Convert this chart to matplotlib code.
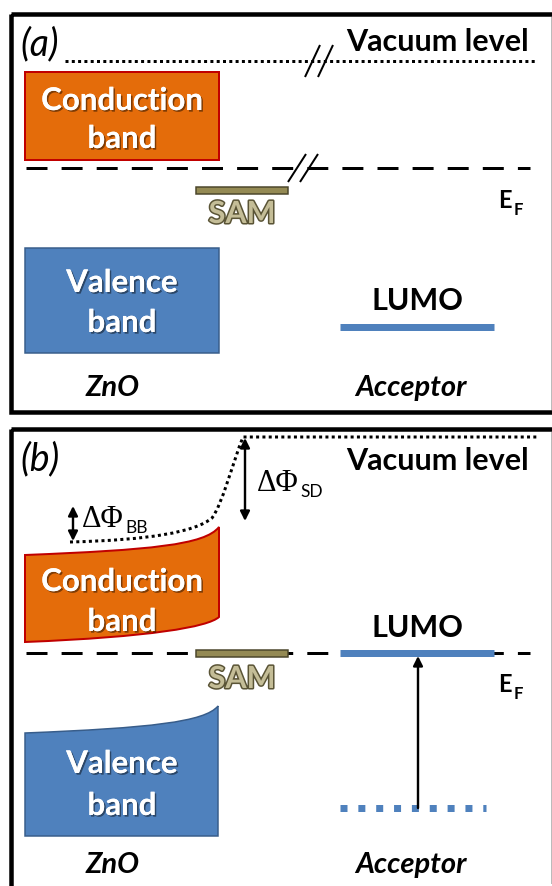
import matplotlib
matplotlib.use('Agg')
import matplotlib.pyplot as plt
from matplotlib.patches import Rectangle, PathPatch
from matplotlib.path import Path
import matplotlib.patheffects as pe

W, H, DPI = 552, 886, 100
PX = 72.0 / DPI  # points per pixel

# ---------------- diagram data (pixel-space energy levels) ----------------
panel_labels = ['(a)', '(b)']
panel_top = [14, 429]
panel_bottom = [412, 905]
zno_x = [25, 219]
acceptor_x = [340, 494]
sam_x = [196, 288]
fermi_y = [168, 653]
vacuum_a_y = 61
vacuum_b_y = 437
cb_a = [72, 160]
vb_a = [248, 353]
lumo_a_y = 327
lumo_b_y = 653
lumo_b_ground_y = 808
# band-bent shapes in panel (b): (x, y) control points
cb_b_top = [(25, 555), (150, 550), (205, 545), (219, 527)]
cb_b_bottom = [(219, 617), (208, 627), (150, 637), (25, 642)]
vb_b_top = [(25, 733), (150, 728), (205, 722), (218, 706)]
vb_b_bottom = 836
vac_b_curve = [(70, 542), (150, 540), (195, 532), (212, 518),
               (222, 505), (233, 462), (243, 437)]
vac_b_end_x = 537

ORANGE = '#E46C0A'
RED = '#C00000'
BLUE = '#4F81BD'
BLUE_EDGE = '#385D8A'
SAM_FILL = '#948A54'
SAM_EDGE = '#4A452A'
SAM_TEXT = '#C4BD97'

FONT = 'Lato'

fig = plt.figure(figsize=(W / DPI, H / DPI), dpi=DPI)
ax = fig.add_axes([0, 0, 1, 1])
ax.set_xlim(0, W)
ax.set_ylim(H, 0)
ax.axis('off')

shadow = [pe.withSimplePatchShadow(offset=(1.2, -1.2), shadow_rgbFace='black', alpha=0.45), pe.Normal()]
sam_fx = [pe.withStroke(linewidth=2.2, foreground='#5A5436')]

dot_ls = (0, (1.0, 1.1))
dash_ls = (0, (7.0, 4.7))
dot_lw = 3 * PX
dash_lw = 3 * PX


def txt(x, y, s, size, weight='bold', style='normal', color='black', fx=None,
        ha='center', va='baseline', family=FONT):
    t = ax.text(x, y, s, fontsize=size, fontweight=weight, fontstyle=style,
                color=color, ha=ha, va=va, family=family)
    if fx:
        t.set_path_effects(fx)
    return t


def break_mark(x0, y0, x1, y1, dx):
    for k in (0, 1):
        ax.plot([x0 + k * dx, x1 + k * dx], [y0, y1], color='black', lw=2 * PX,
                solid_capstyle='butt', zorder=5)


def double_arrow(x, y0, y1, style='<|-|>'):
    ax.annotate('', xy=(x, y1), xytext=(x, y0),
                arrowprops=dict(arrowstyle=style, lw=2.4 * PX, color='black',
                                shrinkA=0, shrinkB=0, mutation_scale=14))


# ---------------- frames ----------------
for top, bot in zip(panel_top, panel_bottom):
    ax.add_patch(Rectangle((11, top), 560, bot - top, fill=False, ec='black',
                           lw=4.5 * PX, zorder=10))
    ax.plot([551, 551], [top + 3, min(bot, H) - 3], color='#BBBBBB', lw=1 * PX, zorder=10)

# panel labels
txt(40, 44, panel_labels[0], 27, weight='normal', style='italic', va='center')
txt(40, 459, panel_labels[1], 27, weight='normal', style='italic', va='center')

# ================= panel (a) =================
ax.plot([65, 535], [vacuum_a_y] * 2, color='black', lw=dot_lw, ls=dot_ls,
        dash_capstyle='butt')
break_mark(305, 77, 320, 45, 13)
txt(437, 51, 'Vacuum level', 22)

ax.add_patch(Rectangle((zno_x[0], cb_a[0]), zno_x[1] - zno_x[0], cb_a[1] - cb_a[0],
                       fc=ORANGE, ec=RED, lw=2 * PX))
txt(122, 110, 'Conduction', 22.5, color='white', fx=shadow)
txt(122, 148, 'band', 22.5, color='white', fx=shadow)

ax.plot([26, 530], [fermi_y[0]] * 2, color='black', lw=dash_lw, ls=dash_ls,
        dash_capstyle='butt')
break_mark(288, 182, 306, 154, 12)

ax.add_patch(Rectangle((sam_x[0], 187), sam_x[1] - sam_x[0], 7, fc=SAM_FILL,
                       ec=SAM_EDGE, lw=1.5 * PX, zorder=4))
txt(242, 223, 'SAM', 22, color=SAM_TEXT, fx=sam_fx)

txt(498, 208, 'E', 17, ha='left')
txt(514, 215, 'F', 12, ha='left')

ax.add_patch(Rectangle((zno_x[0], vb_a[0]), zno_x[1] - zno_x[0], vb_a[1] - vb_a[0],
                       fc=BLUE, ec=BLUE_EDGE, lw=1.5 * PX))
txt(122, 292, 'Valence', 22.5, color='white', fx=shadow)
txt(122, 332, 'band', 22.5, color='white', fx=shadow)

ax.plot(acceptor_x, [lumo_a_y] * 2, color=BLUE, lw=7 * PX, solid_capstyle='butt')
txt(417, 310, 'LUMO', 22)

txt(113, 396, 'ZnO', 21, style='italic')
txt(411, 396, 'Acceptor', 21, style='italic')

# ================= panel (b) =================
M, C, L, Z = Path.MOVETO, Path.CURVE4, Path.LINETO, Path.CLOSEPOLY

vac_verts = vac_b_curve + [(vac_b_end_x, vacuum_b_y)]
vac_codes = [M, C, C, C, C, C, C, L]
ax.add_patch(PathPatch(Path(vac_verts, vac_codes), fill=False, ec='black',
                       lw=dot_lw, ls=dot_ls, capstyle='butt'))
txt(437, 470, 'Vacuum level', 22)

double_arrow(245, 438, 521)
txt(257, 491, 'ΔΦ', 22, weight='normal', ha='left', family='Liberation Serif')
txt(300, 497, 'SD', 12.5, weight='normal', ha='left')

double_arrow(73, 506, 541)
txt(82, 527, 'ΔΦ', 22, weight='normal', ha='left', family='Liberation Serif')
txt(125, 533, 'BB', 12.5, weight='normal', ha='left')

cb_verts = cb_b_top + cb_b_bottom + [cb_b_top[0]]
cb_codes = [M, C, C, C, L, C, C, C, Z]
ax.add_patch(PathPatch(Path(cb_verts, cb_codes), fc=ORANGE, ec=RED, lw=2 * PX))
txt(122, 591, 'Conduction', 22.5, color='white', fx=shadow)
txt(122, 631, 'band', 22.5, color='white', fx=shadow)

ax.plot([26, 530], [fermi_y[1]] * 2, color='black', lw=dash_lw, ls=dash_ls,
        dash_capstyle='butt')
ax.add_patch(Rectangle((sam_x[0], fermi_y[1] - 3.5), sam_x[1] - sam_x[0], 7,
                       fc=SAM_FILL, ec=SAM_EDGE, lw=1.5 * PX, zorder=4))
txt(242, 688, 'SAM', 22, color=SAM_TEXT, fx=sam_fx)
txt(498, 692, 'E', 17, ha='left')
txt(514, 699, 'F', 12, ha='left')

ax.plot(acceptor_x, [lumo_b_y] * 2, color=BLUE, lw=7 * PX, solid_capstyle='butt', zorder=4)
txt(417, 637, 'LUMO', 22)
ax.plot([acceptor_x[0], acceptor_x[1] - 8], [lumo_b_ground_y] * 2, color=BLUE,
        lw=7 * PX, ls=(0, (1.0, 1.55)), dash_capstyle='butt')
double_arrow(418, lumo_b_ground_y, lumo_b_y + 3, style='-|>')

vb_verts = vb_b_top + [(vb_b_top[-1][0], vb_b_bottom), (vb_b_top[0][0], vb_b_bottom),
                       vb_b_top[0]]
vb_codes = [M, C, C, C, L, L, Z]
ax.add_patch(PathPatch(Path(vb_verts, vb_codes), fc=BLUE, ec=BLUE_EDGE, lw=1.5 * PX))
txt(122, 773, 'Valence', 22.5, color='white', fx=shadow)
txt(122, 815, 'band', 22.5, color='white', fx=shadow)

txt(113, 873, 'ZnO', 21, style='italic')
txt(411, 873, 'Acceptor', 21, style='italic')

fig.savefig('out.png', dpi=DPI, facecolor='white')
